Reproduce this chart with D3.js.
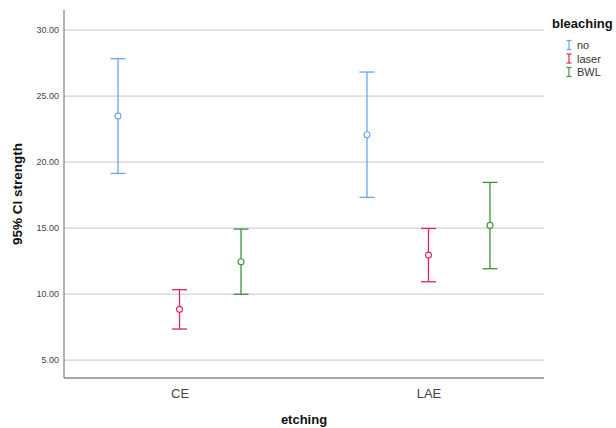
<!DOCTYPE html>
<html><head><meta charset="utf-8">
<script src="https://cdn.jsdelivr.net/npm/d3@7"></script>
<style>body{margin:0;background:#fff}svg{display:block;font-family:"Liberation Sans",Arial,sans-serif}</style>
</head><body><svg id="c" width="616" height="428"></svg>
<script>
const etching = ["CE", "LAE"];
const bleaching = ["no", "laser", "BWL"];
const colors = ["#6aa6ee", "#e3245a", "#3a9438"];
const means = { CE: [23.48, 8.84, 12.45], LAE: [22.07, 12.95, 15.20] };
const lower = { CE: [19.14, 7.35, 9.98], LAE: [17.33, 10.93, 11.92] };
const upper = { CE: [27.83, 10.33, 14.92], LAE: [26.82, 14.97, 18.46] };
const yTicks = [5, 10, 15, 20, 25, 30];

const svg = d3.select("#c");
const L = 64, R = 544, T = 10, B = 378;
const y = d3.scaleLinear().domain([3.64, 31.52]).range([B, T]);
const x = d3.scalePoint().domain(etching).range([L, R]).padding(0.464);
const xo = d3.scalePoint().domain(bleaching).range([-61.5, 61.5]);
const col = d3.scaleOrdinal().domain(bleaching).range(colors);

// gridlines
svg.append("g").selectAll("line").data(yTicks).join("line")
  .attr("x1", L).attr("x2", R).attr("y1", d => y(d)).attr("y2", d => y(d))
  .attr("stroke", "#d2d2d2").attr("stroke-width", 1.2);

// y axis
const ya = svg.append("g").attr("transform", `translate(${L},0)`)
  .call(d3.axisLeft(y).tickValues(yTicks).tickFormat(d3.format(".2f")).tickSize(0).tickPadding(5));
ya.select(".domain").attr("stroke", "#8a8a8a").attr("stroke-width", 1.3).attr("d", `M0,${T}V${B}`);
ya.selectAll("text").attr("font-size", 9).attr("fill", "#444").attr("font-family", "Liberation Sans, Arial, sans-serif");

// x axis
const xa = svg.append("g").attr("transform", `translate(0,${B})`)
  .call(d3.axisBottom(x).tickSize(0).tickPadding(11));
xa.select(".domain").attr("stroke", "#8a8a8a").attr("stroke-width", 1.3).attr("d", `M${L},0H${R}`);
xa.selectAll("text").attr("font-size", 13).attr("fill", "#444").attr("font-family", "Liberation Sans, Arial, sans-serif");

// error bars
const rows = [];
etching.forEach(e => bleaching.forEach((b, i) => rows.push({ e, b, m: means[e][i], lo: lower[e][i], hi: upper[e][i] })));
const g = svg.append("g");
rows.forEach(r => {
  const cx = x(r.e) + xo(r.b);
  const c = col(r.b);
  const gg = g.append("g").attr("stroke", c).attr("stroke-width", 1.3).attr("fill", "none");
  gg.append("line").attr("x1", cx).attr("x2", cx).attr("y1", y(r.lo)).attr("y2", y(r.hi));
  gg.append("line").attr("x1", cx - 7.5).attr("x2", cx + 7.5).attr("y1", y(r.hi)).attr("y2", y(r.hi));
  gg.append("line").attr("x1", cx - 7.5).attr("x2", cx + 7.5).attr("y1", y(r.lo)).attr("y2", y(r.lo));
  gg.append("circle").attr("cx", cx).attr("cy", y(r.m)).attr("r", 3).attr("fill", "#fff").attr("stroke-width", 1.1);
});

// axis titles
svg.append("text").attr("transform", `translate(22,${(T + B) / 2}) rotate(-90)`)
  .attr("text-anchor", "middle").attr("font-size", 13.5).attr("font-weight", "bold").attr("fill", "#111")
  .text("95% CI strength");
svg.append("text").attr("x", 304).attr("y", 424).attr("text-anchor", "middle")
  .attr("font-size", 13).attr("font-weight", "bold").attr("fill", "#111").text("etching");

// legend
svg.append("text").attr("x", 552).attr("y", 28).attr("font-size", 13).attr("font-weight", "bold").attr("fill", "#111").text("bleaching");
bleaching.forEach((b, i) => {
  const ly = 45 + i * 13.5;
  const lg = svg.append("g").attr("stroke", col(b)).attr("stroke-width", 1.2);
  lg.append("line").attr("x1", 569).attr("x2", 569).attr("y1", ly - 4.5).attr("y2", ly + 4.5);
  lg.append("line").attr("x1", 566.5).attr("x2", 571.5).attr("y1", ly - 4.5).attr("y2", ly - 4.5);
  lg.append("line").attr("x1", 566.5).attr("x2", 571.5).attr("y1", ly + 4.5).attr("y2", ly + 4.5);
  svg.append("text").attr("x", 577).attr("y", ly + 4).attr("font-size", 11).attr("fill", "#333").text(b);
});
</script></body></html>
